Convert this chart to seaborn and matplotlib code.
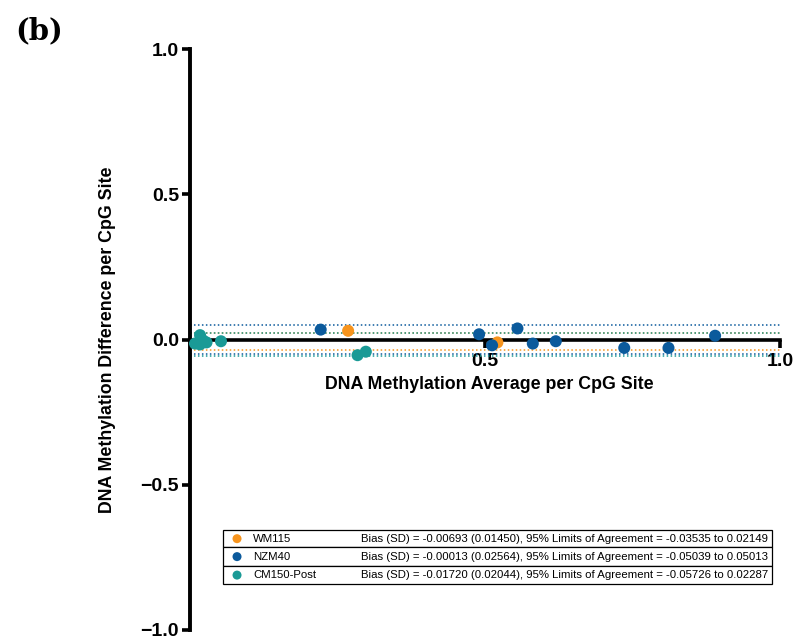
import matplotlib
matplotlib.use("Agg")
import matplotlib.pyplot as plt
import seaborn as sns
import pandas as pd
from matplotlib.patches import Rectangle

# ---------------- data ----------------
groups = ["WM115", "NZM40", "CM150-Post"]
palette = ["#F7941D", "#0B5A9C", "#1A9A96"]

wm_avg = [0.268, 0.521]
wm_diff = [0.030, -0.010]

nz_avg = [0.2215, 0.490, 0.512, 0.555, 0.581, 0.620, 0.736, 0.811, 0.890]
nz_diff = [0.034, 0.018, -0.020, 0.038, -0.014, -0.006, -0.029, -0.029, 0.013]

cm_avg = [0.0085, 0.017, 0.017, 0.028, 0.022, 0.0525, 0.284, 0.298]
cm_diff = [-0.014, 0.015, -0.017, -0.010, -0.003, -0.006, -0.054, -0.042]

bias = [-0.00693, -0.00013, -0.01720]
sd = [0.01450, 0.02564, 0.02044]
loa_low = [-0.03535, -0.05039, -0.05726]
loa_high = [0.02149, 0.05013, 0.02287]

x_ticks = [0.5, 1.0]
x_ticklabels = ["0.5", "1.0"]
y_ticks = [-1.0, -0.5, 0.0, 0.5, 1.0]
y_ticklabels = ["\u22121.0", "\u22120.5", "0.0", "0.5", "1.0"]

df = pd.DataFrame({
    "avg": wm_avg + nz_avg + cm_avg,
    "diff": wm_diff + nz_diff + cm_diff,
    "group": [groups[0]] * len(wm_avg) + [groups[1]] * len(nz_avg) + [groups[2]] * len(cm_avg),
})

# ---------------- figure ----------------
sns.set_theme(style="white")
plt.rcParams["font.family"] = ["Liberation Sans", "DejaVu Sans"]
plt.rcParams["text.color"] = "black"
plt.rcParams["axes.labelcolor"] = "black"
plt.rcParams["xtick.color"] = "black"
plt.rcParams["ytick.color"] = "black"

fig = plt.figure(figsize=(7.97, 6.39), dpi=100)
ax = fig.add_axes([190 / 797, 9 / 639, 590 / 797, 581 / 639])
ax.set_facecolor("white")
ax.set_xlim(0, 1.0)
ax.set_ylim(-1.0, 1.0)

# limits of agreement lines
for c, lo, hi in zip(palette, loa_low, loa_high):
    for v in (lo, hi):
        ax.plot([0, 1.0], [v, v], color=c, lw=1.1, ls=(0, (1, 1.6)), zorder=1)

sns.scatterplot(data=df, x="avg", y="diff", hue="group", hue_order=groups,
                palette=palette, s=75, edgecolor="none", linewidth=0,
                legend=False, ax=ax, zorder=5, clip_on=False)

# spines
for s in ("top", "right"):
    ax.spines[s].set_visible(False)
ax.spines["bottom"].set_position(("data", 0))
ax.spines["bottom"].set_linewidth(2.6)
ax.spines["left"].set_linewidth(2.8)
ax.spines["bottom"].set_color("black")
ax.spines["left"].set_color("black")

ax.set_xticks(x_ticks)
ax.set_xticklabels(x_ticklabels)
ax.set_yticks(y_ticks)
ax.set_yticklabels(y_ticklabels)
ax.tick_params(axis="both", direction="out", length=6, width=2.6, color="black",
               labelcolor="black", labelsize=14, pad=2, bottom=True, left=True)
ax.tick_params(axis="x", pad=4)
for lab in ax.get_xticklabels() + ax.get_yticklabels():
    lab.set_fontweight("bold")

ax.set_xlabel("DNA Methylation Average per CpG Site", fontsize=12.8,
              fontweight="bold", color="black")
ax.set_ylabel("DNA Methylation Difference per CpG Site", fontsize=12.8,
              fontweight="bold", color="black")
ax.xaxis.set_label_coords(0.508, 0.437)
ax.yaxis.set_label_coords(-0.126, 0.5)

# legend table
rows_top = [0.1718, 0.1426, 0.1100]
rows_bot = [0.1426, 0.1100, 0.0790]
x0, x1 = 0.0559, 0.9864
for i, g in enumerate(groups):
    ax.add_patch(Rectangle((x0, rows_bot[i]), x1 - x0, rows_top[i] - rows_bot[i],
                           transform=ax.transAxes, facecolor="white", edgecolor="black",
                           lw=0.9, zorder=6, clip_on=False))
    yc = (rows_top[i] + rows_bot[i]) / 2
    ax.scatter([0.0797], [yc], s=42, color=palette[i], transform=ax.transAxes,
               zorder=7, clip_on=False, edgecolor="none")
    ax.text(0.1068, yc, g, transform=ax.transAxes, fontsize=8.2, va="center",
            ha="left", zorder=7, color="black")
    txt = (f"Bias (SD) = {bias[i]:.5f} ({sd[i]:.5f}), 95% Limits of Agreement = "
           f"{loa_low[i]:.5f} to {loa_high[i]:.5f}")
    ax.text(0.2898, yc, txt, transform=ax.transAxes, fontsize=8.2, va="center",
            ha="left", zorder=7, color="black")

fig.text(15 / 797, 1 - 31 / 639, "(b)", fontsize=21, fontweight="bold",
         family=["DejaVu Serif"], va="center", ha="left", color="black")

fig.savefig("out.png", dpi=100, facecolor="white")
